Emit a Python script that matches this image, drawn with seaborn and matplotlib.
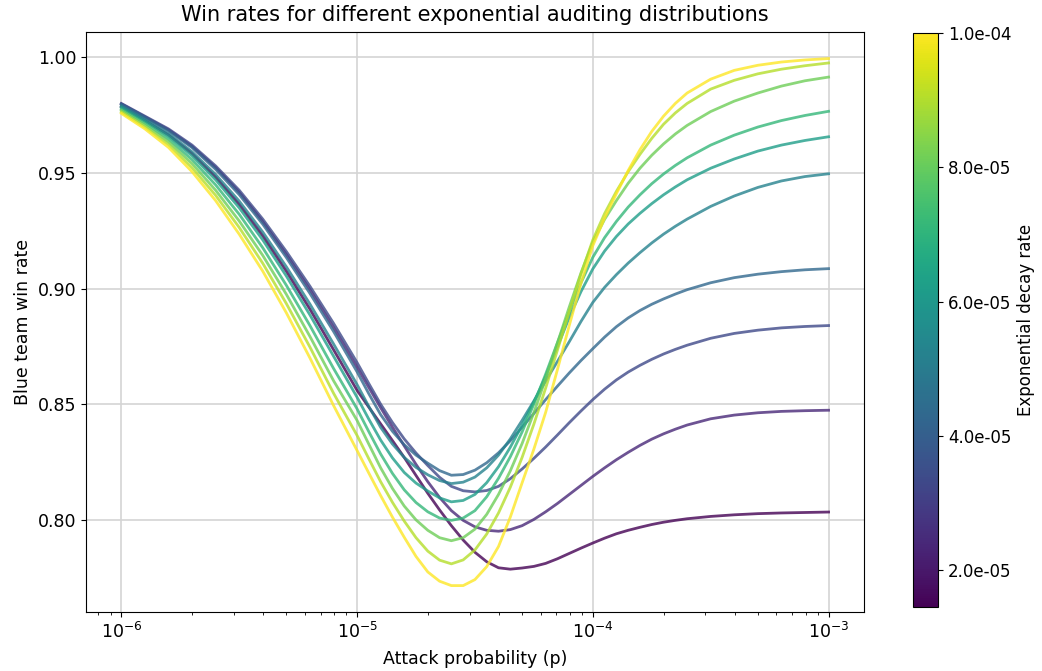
import numpy as np
import pandas as pd
import matplotlib
matplotlib.use("Agg")
import matplotlib.pyplot as plt
from matplotlib.ticker import FormatStrFormatter
import seaborn as sns

# attack probability grid (log10 p); finer around the dip
p_exp = [-6.0, -5.9, -5.8, -5.7, -5.6, -5.5, -5.4, -5.3, -5.2, -5.1, -5.0,
         -4.95, -4.9, -4.85, -4.8, -4.75, -4.7, -4.65, -4.6, -4.55, -4.5,
         -4.45, -4.4, -4.35, -4.3, -4.25, -4.2, -4.15, -4.1, -4.05, -4.0,
         -3.95, -3.9, -3.85, -3.8, -3.75, -3.7, -3.65, -3.6,
         -3.5, -3.4, -3.3, -3.2, -3.1, -3.0]

decay_rates = [1.45e-5, 2.4e-5, 3.35e-5, 4.3e-5, 5.25e-5,
               6.2e-5, 7.15e-5, 8.1e-5, 9.05e-5, 1.0e-4]

win_01 = [0.9786, 0.9727, 0.9664, 0.9583, 0.9482, 0.9364, 0.9228, 0.9075, 0.8911, 0.8736, 0.8560,
          0.8487, 0.8415, 0.8343, 0.8270, 0.8192, 0.8115, 0.8043, 0.7975, 0.7913, 0.7860,
          0.7819, 0.7793, 0.7787, 0.7792, 0.7799, 0.7812, 0.7832, 0.7855, 0.7878, 0.7900,
          0.7921, 0.7940, 0.7955, 0.7968, 0.7980, 0.7990, 0.7998, 0.8005,
          0.8015, 0.8022, 0.8027, 0.8030, 0.8032, 0.8034]
win_02 = [0.9798, 0.9742, 0.9686, 0.9614, 0.9523, 0.9416, 0.9289, 0.9147, 0.8995, 0.8832, 0.8660,
          0.8572, 0.8485, 0.8401, 0.8320, 0.8240, 0.8165, 0.8097, 0.8040, 0.7998, 0.7970,
          0.7955, 0.7951, 0.7958, 0.7975, 0.8002, 0.8035, 0.8071, 0.8110, 0.8149, 0.8188,
          0.8225, 0.8260, 0.8292, 0.8322, 0.8349, 0.8372, 0.8392, 0.8410,
          0.8437, 0.8453, 0.8463, 0.8469, 0.8472, 0.8474]
win_03 = [0.9800, 0.9745, 0.9690, 0.9620, 0.9530, 0.9425, 0.9300, 0.9160, 0.9010, 0.8850, 0.8680,
          0.8589, 0.8500, 0.8421, 0.8350, 0.8289, 0.8235, 0.8184, 0.8145, 0.8126, 0.8121,
          0.8127, 0.8145, 0.8178, 0.8220, 0.8266, 0.8315, 0.8367, 0.8420, 0.8471, 0.8520,
          0.8565, 0.8605, 0.8639, 0.8668, 0.8694, 0.8717, 0.8737, 0.8755,
          0.8785, 0.8806, 0.8820, 0.8830, 0.8836, 0.8840]
win_04 = [0.9796, 0.9740, 0.9682, 0.9609, 0.9515, 0.9406, 0.9278, 0.9134, 0.8979, 0.8815, 0.8640,
          0.8545, 0.8455, 0.8383, 0.8325, 0.8280, 0.8245, 0.8213, 0.8193, 0.8196, 0.8215,
          0.8247, 0.8290, 0.8342, 0.8400, 0.8460, 0.8520, 0.8578, 0.8635, 0.8689, 0.8740,
          0.8790, 0.8835, 0.8873, 0.8905, 0.8932, 0.8955, 0.8976, 0.8995,
          0.9025, 0.9047, 0.9062, 0.9073, 0.9081, 0.9086]
win_05 = [0.9789, 0.9731, 0.9670, 0.9591, 0.9493, 0.9378, 0.9244, 0.9094, 0.8933, 0.8761, 0.8585,
          0.8490, 0.8400, 0.8328, 0.8270, 0.8227, 0.8195, 0.8170, 0.8157, 0.8163, 0.8185,
          0.8225, 0.8280, 0.8350, 0.8430, 0.8514, 0.8600, 0.8685, 0.8770, 0.8858, 0.8940,
          0.9005, 0.9060, 0.9110, 0.9155, 0.9197, 0.9235, 0.9269, 0.9300,
          0.9355, 0.9400, 0.9437, 0.9465, 0.9484, 0.9496]
win_06 = [0.9783, 0.9723, 0.9658, 0.9574, 0.9470, 0.9349, 0.9210, 0.9054, 0.8886, 0.8708, 0.8530,
          0.8435, 0.8345, 0.8268, 0.8205, 0.8159, 0.8125, 0.8095, 0.8078, 0.8084, 0.8110,
          0.8161, 0.8230, 0.8314, 0.8410, 0.8510, 0.8620, 0.8748, 0.8875, 0.8987, 0.9085,
          0.9162, 0.9225, 0.9279, 0.9325, 0.9367, 0.9405, 0.9439, 0.9470,
          0.9520, 0.9560, 0.9594, 0.9620, 0.9640, 0.9656]
win_07 = [0.9776, 0.9715, 0.9646, 0.9557, 0.9448, 0.9321, 0.9176, 0.9014, 0.8840, 0.8655, 0.8480,
          0.8381, 0.8285, 0.8201, 0.8130, 0.8075, 0.8035, 0.8008, 0.7998, 0.8008, 0.8040,
          0.8100, 0.8180, 0.8273, 0.8380, 0.8501, 0.8630, 0.8766, 0.8900, 0.9025, 0.9135,
          0.9220, 0.9290, 0.9352, 0.9405, 0.9453, 0.9495, 0.9532, 0.9565,
          0.9620, 0.9663, 0.9698, 0.9726, 0.9748, 0.9766]
win_08 = [0.9770, 0.9707, 0.9634, 0.9540, 0.9425, 0.9292, 0.9143, 0.8975, 0.8793, 0.8602, 0.8430,
          0.8327, 0.8225, 0.8136, 0.8060, 0.8000, 0.7955, 0.7923, 0.7910, 0.7923, 0.7960,
          0.8024, 0.8110, 0.8212, 0.8330, 0.8464, 0.8610, 0.8765, 0.8920, 0.9068, 0.9200,
          0.9299, 0.9380, 0.9455, 0.9520, 0.9576, 0.9625, 0.9668, 0.9705,
          0.9765, 0.9810, 0.9845, 0.9875, 0.9898, 0.9914]
win_09 = [0.9763, 0.9698, 0.9622, 0.9522, 0.9403, 0.9264, 0.9109, 0.8935, 0.8747, 0.8548, 0.8365,
          0.8264, 0.8165, 0.8076, 0.7995, 0.7923, 0.7865, 0.7826, 0.7810, 0.7827, 0.7870,
          0.7939, 0.8030, 0.8141, 0.8270, 0.8414, 0.8570, 0.8734, 0.8900, 0.9063, 0.9210,
          0.9324, 0.9420, 0.9505, 0.9580, 0.9649, 0.9710, 0.9759, 0.9800,
          0.9862, 0.9900, 0.9928, 0.9948, 0.9963, 0.9975]
win_10 = [0.9757, 0.9690, 0.9610, 0.9505, 0.9380, 0.9235, 0.9075, 0.8895, 0.8700, 0.8495, 0.8300,
          0.8202, 0.8105, 0.8012, 0.7925, 0.7842, 0.7775, 0.7735, 0.7716, 0.7716, 0.7742,
          0.7798, 0.7885, 0.8012, 0.8160, 0.8306, 0.8465, 0.8650, 0.8840, 0.9023, 0.9185,
          0.9305, 0.9410, 0.9510, 0.9600, 0.9679, 0.9745, 0.9800, 0.9845,
          0.9905, 0.9943, 0.9965, 0.9979, 0.9988, 0.9994]

all_wins = [win_01, win_02, win_03, win_04, win_05,
            win_06, win_07, win_08, win_09, win_10]

rows = []
for rate, wins in zip(decay_rates, all_wins):
    for e, w in zip(p_exp, wins):
        rows.append({"p": 10.0 ** e, "win": w, "rate": rate})
df = pd.DataFrame(rows)

fig = plt.figure(figsize=(10.42, 6.71), dpi=100)
ax = fig.add_axes([0.0825, 0.088, 0.7466, 0.864])
cax = fig.add_axes([0.876, 0.095, 0.024, 0.856])

norm = plt.Normalize(min(decay_rates), max(decay_rates))
sns.lineplot(data=df, x="p", y="win", hue="rate", palette="viridis",
             hue_norm=norm, estimator=None, legend=False,
             linewidth=2, alpha=0.8, ax=ax)

ax.set_xscale("log")
ax.grid(True, color="#d4d4d4", linewidth=1.2)
ax.set_title("Win rates for different exponential auditing distributions",
             fontsize=15, pad=8)
ax.set_xlabel("Attack probability (p)", fontsize=12.5, labelpad=6)
ax.set_ylabel("Blue team win rate", fontsize=12.5)
ax.tick_params(labelsize=12.5)

sm = plt.cm.ScalarMappable(norm=norm, cmap="viridis")
cb = fig.colorbar(sm, cax=cax)
cb.set_ticks([2e-5, 4e-5, 6e-5, 8e-5, 1e-4])
cb.ax.yaxis.set_major_formatter(FormatStrFormatter("%.1e"))
cb.ax.tick_params(labelsize=12, pad=4)
cb.set_label("Exponential decay rate", fontsize=12, labelpad=4)

fig.savefig("out.png", dpi=100)
